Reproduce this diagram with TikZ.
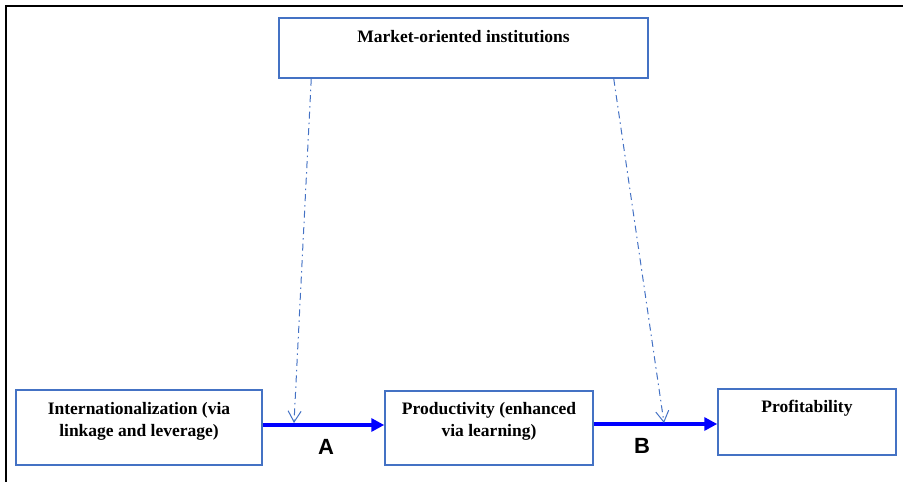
\documentclass[tikz,border=0pt]{standalone}
\usepackage{fontspec}
\setmainfont{Liberation Serif}
\newfontfamily\pathfont{Liberation Sans}
\usetikzlibrary{positioning,arrows.meta}
\definecolor{boxblue}{RGB}{68,114,196}
\definecolor{flowblue}{RGB}{0,0,255}
\begin{document}
\begin{tikzpicture}[x=1pt,y=-1pt]

                \tikzset{box/.style = {shape=rectangle,draw=boxblue,line width=1.5pt,inner sep=0pt}}
                \tikzset{boxtext/.style = {inner sep=0pt,align=center,font=\fontsize{17.5}{22}\selectfont\bfseries}}
                \tikzset{pathtext/.style = {inner sep=0pt,font=\pathfont\fontsize{22}{24}\selectfont\bfseries}}
                \tikzset{flow/.style = {draw=flowblue,line width=3.5pt,-{Triangle[length=13pt,width=13pt]}}}
                \tikzset{moderate/.style = {draw=boxblue,line width=1pt,dash pattern=on 7pt off 4pt on 1.5pt off 4pt,-{Straight Barb[length=11pt,width=13pt]}}}

                \useasboundingbox (0,0) rectangle (903,482);
                \draw[line width=1.5pt] (6,482) -- (6,6) -- (903,6);

                \node[box,minimum width=369pt,minimum height=60pt] (inst) at (463.5,48) {};
                \node[box,minimum width=246pt,minimum height=75pt] (intl) at (139,427.5) {};
                \node[box,minimum width=208pt,minimum height=74pt] (prod) at (489,428) {};
                \node[box,minimum width=178pt,minimum height=66pt] (profit) at (807,422) {};

                \node[boxtext,below=12.5pt of inst.north] (insttext) {Market-oriented institutions};
                \node[boxtext,below=12.5pt of intl.north] (intltext) {Internationalization (via\\linkage and leverage)};
                \node[boxtext,below=11.5pt of prod.north] (prodtext) {Productivity (enhanced\\via learning)};
                \node[boxtext,below=11.5pt of profit.north] (profittext) {Profitability};

                \coordinate (modA) at (294,423);
                \coordinate (modB) at (664,423);

                \draw[flow] ([yshift=2.5pt]intl.east) -- ([yshift=2.5pt]intl.east -| prod.west);
                \draw[flow] ([yshift=4pt]prod.east) -- ([yshift=4pt]prod.east -| profit.west);

                \draw[moderate] ([xshift=33pt]inst.south west) -- (modA);
                \draw[moderate] ([xshift=-35pt]inst.south east) -- (modB);

                \node[pathtext] (A) at (326,446.5) {A};
                \node[pathtext] (B) at (642,446) {B};
            \end{tikzpicture}
\end{document}
